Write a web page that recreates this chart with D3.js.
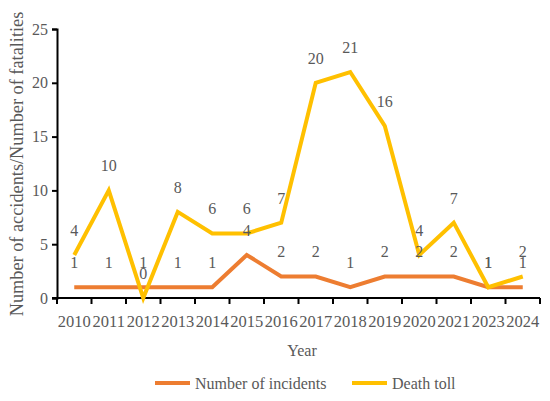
<!DOCTYPE html>
<html><head><meta charset="utf-8">
<script src="https://cdn.jsdelivr.net/npm/d3@7"></script>
<style>body{margin:0;background:#fff}svg{display:block}</style>
</head><body>
<svg id="c" width="550" height="401"></svg>
<script>
const years = ["2010","2011","2012","2013","2014","2015","2016","2017","2018","2019","2020","2021","2023","2024"];
const incidents = [1,1,1,1,1,4,2,2,1,2,2,2,1,1];
const deaths = [4,10,0,8,6,6,7,20,21,16,4,7,1,2];
const yTicks = [0,5,10,15,20,25];
const seriesNames = ["Number of incidents","Death toll"];
const colors = ["#ED7D31","#FFC000"];

const svg = d3.select("#c");
const font = "'Liberation Serif','Times New Roman',serif";
const textColor = "#595959";
const x0 = 57, x1 = 540, yTop = 29, yBot = 298;
const xb = d3.scaleBand().domain(years).range([x0, x1]);
const xc = d => xb(d) + xb.bandwidth()/2;
const y = d3.scaleLinear().domain([0,25]).range([yBot, yTop]);

// y axis
const ya = svg.append("g").attr("transform",`translate(${x0},0)`)
  .call(d3.axisLeft(y).tickValues(yTicks).tickSize(5).tickPadding(4));
ya.select(".domain").attr("stroke","#000").attr("stroke-width",2);
ya.selectAll(".tick line").attr("stroke","#000").attr("stroke-width",2);
ya.selectAll(".tick text").attr("font-family",font).attr("font-size",16).attr("fill",textColor);

// x axis with boundary ticks
const xa = svg.append("g").attr("transform",`translate(0,${yBot})`);
xa.append("line").attr("x1",x0-5).attr("x2",x1).attr("y1",0).attr("y2",0).attr("stroke","#000").attr("stroke-width",2);
const bounds = years.map(d => xb(d)).concat([x1]);
xa.selectAll("line.t").data(bounds).enter().append("line").attr("class","t")
  .attr("x1",d=>d).attr("x2",d=>d).attr("y1",0).attr("y2",6).attr("stroke","#000").attr("stroke-width",2);
xa.selectAll("text").data(years).enter().append("text")
  .attr("x",d=>xc(d)).attr("y",29).attr("text-anchor","middle")
  .attr("font-family",font).attr("font-size",16.5).attr("fill",textColor).text(d=>d);

// lines
const line = vals => d3.line().x((d,i)=>xc(years[i])).y(d=>y(d))(vals);
[incidents, deaths].forEach((vals,k)=>{
  svg.append("path").attr("d",line(vals)).attr("fill","none")
    .attr("stroke",colors[k]).attr("stroke-width",4).attr("stroke-linejoin","miter");
});
// labels
[incidents, deaths].forEach((vals,k)=>{
  svg.selectAll(null).data(vals).enter().append("text")
    .attr("x",(d,i)=>xc(years[i])).attr("y",d=>y(d)-19).attr("text-anchor","middle")
    .attr("font-family",font).attr("font-size",16).attr("fill",textColor).text(d=>d);
});

// axis titles
svg.append("text").attr("x",302).attr("y",356).attr("text-anchor","middle")
  .attr("font-family",font).attr("font-size",16).attr("fill",textColor).text("Year");
svg.append("text").attr("transform",`translate(23,164) rotate(-90)`).attr("text-anchor","middle")
  .attr("font-family",font).attr("font-size",18.3).attr("fill",textColor).text("Number of accidents/Number of fatalities");

// legend
const leg = [[155,195],[352,392]];
seriesNames.forEach((n,k)=>{
  svg.append("line").attr("x1",leg[k][0]).attr("x2",leg[k][0]+35).attr("y1",383).attr("y2",383)
    .attr("stroke",colors[k]).attr("stroke-width",4);
  svg.append("text").attr("x",leg[k][1]).attr("y",389).attr("font-family",font).attr("font-size",16)
    .attr("fill",textColor).text(n);
});
</script>
</body></html>
